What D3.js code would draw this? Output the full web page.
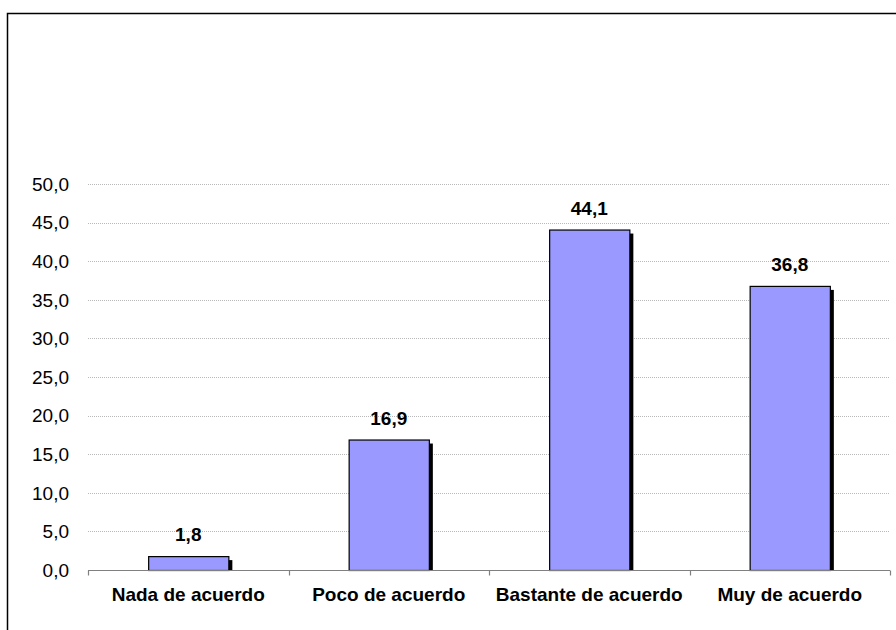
<!DOCTYPE html>
<html>
<head>
<meta charset="utf-8">
<script src="https://cdn.jsdelivr.net/npm/d3@7"></script>
<style>
  html, body { margin: 0; padding: 0; background: #fff; }
  svg { display: block; }
</style>
</head>
<body>
<svg id="chart" width="896" height="630"></svg>
<script>
// Survey answers and percentages
const categories = ["Nada de acuerdo", "Poco de acuerdo", "Bastante de acuerdo", "Muy de acuerdo"];
const values = [1.8, 16.9, 44.1, 36.8];
const yTicks = [0, 5, 10, 15, 20, 25, 30, 35, 40, 45, 50];

const svg = d3.select("#chart");
const fmt = v => v.toFixed(1).replace(".", ",");
const font = "Liberation Sans, Arial, sans-serif";

const plot = { left: 88, right: 890, top: 184, bottom: 570 };

const x = d3.scaleBand()
  .domain(categories)
  .range([plot.left, plot.right])
  .paddingInner(0.6)
  .paddingOuter(0.3);

const y = d3.scaleLinear()
  .domain([0, 50])
  .range([plot.bottom, plot.top]);

// Outer frame (only the top and left edges fall inside the view)
svg.append("rect")
  .attr("x", 7.5).attr("y", 13.5)
  .attr("width", 1000).attr("height", 1000)
  .attr("fill", "none")
  .attr("stroke", "#000")
  .attr("stroke-width", 1.5);

// Dotted horizontal gridlines
svg.append("g")
  .selectAll("line")
  .data(yTicks.filter(t => t > 0))
  .join("line")
  .attr("x1", plot.left).attr("x2", plot.right)
  .attr("y1", d => Math.round(y(d)) + 0.5)
  .attr("y2", d => Math.round(y(d)) + 0.5)
  .attr("stroke", "#b8b8b8")
  .attr("stroke-width", 1)
  .attr("stroke-dasharray", "1,1");

// Y tick labels
svg.append("g")
  .selectAll("text")
  .data(yTicks)
  .join("text")
  .attr("x", 69)
  .attr("y", d => y(d))
  .attr("dy", "0.36em")
  .attr("text-anchor", "end")
  .attr("font-family", font)
  .attr("font-size", 19)
  .attr("fill", "#000")
  .text(fmt);

// Bar shadows
const shadowOff = 4;
svg.append("g")
  .selectAll("rect")
  .data(values)
  .join("rect")
  .attr("x", (d, i) => x(categories[i]) + shadowOff)
  .attr("y", d => y(d) + shadowOff)
  .attr("width", x.bandwidth())
  .attr("height", d => Math.max(0, y(0) - y(d) - shadowOff))
  .attr("fill", "#000");

// Bars
svg.append("g")
  .selectAll("rect")
  .data(values)
  .join("rect")
  .attr("x", (d, i) => x(categories[i]) + 0.5)
  .attr("y", d => y(d) + 0.5)
  .attr("width", x.bandwidth())
  .attr("height", d => y(0) - y(d))
  .attr("fill", "#9999ff")
  .attr("stroke", "#000")
  .attr("stroke-width", 1.2);

// X axis baseline with category boundary ticks
const axisY = Math.round(y(0)) + 0.5;
svg.append("line")
  .attr("x1", plot.left).attr("x2", plot.right)
  .attr("y1", axisY).attr("y2", axisY)
  .attr("stroke", "#808080").attr("stroke-width", 1.2);

const boundaries = d3.range(categories.length + 1).map(i => plot.left + i * (plot.right - plot.left) / categories.length);
svg.append("g")
  .selectAll("line")
  .data(boundaries)
  .join("line")
  .attr("x1", d => Math.round(d) + 0.5).attr("x2", d => Math.round(d) + 0.5)
  .attr("y1", axisY).attr("y2", axisY + 5)
  .attr("stroke", "#808080").attr("stroke-width", 1.2);

// Category labels
svg.append("g")
  .selectAll("text")
  .data(categories)
  .join("text")
  .attr("x", d => x(d) + x.bandwidth() / 2)
  .attr("y", 601)
  .attr("text-anchor", "middle")
  .attr("font-family", font)
  .attr("font-size", 19)
  .attr("font-weight", "bold")
  .attr("fill", "#000")
  .text(d => d);

// Value labels
svg.append("g")
  .selectAll("text")
  .data(values)
  .join("text")
  .attr("x", (d, i) => x(categories[i]) + x.bandwidth() / 2)
  .attr("y", d => y(d) - 15)
  .attr("text-anchor", "middle")
  .attr("font-family", font)
  .attr("font-size", 19)
  .attr("font-weight", "bold")
  .attr("fill", "#000")
  .text(fmt);
</script>
</body>
</html>
